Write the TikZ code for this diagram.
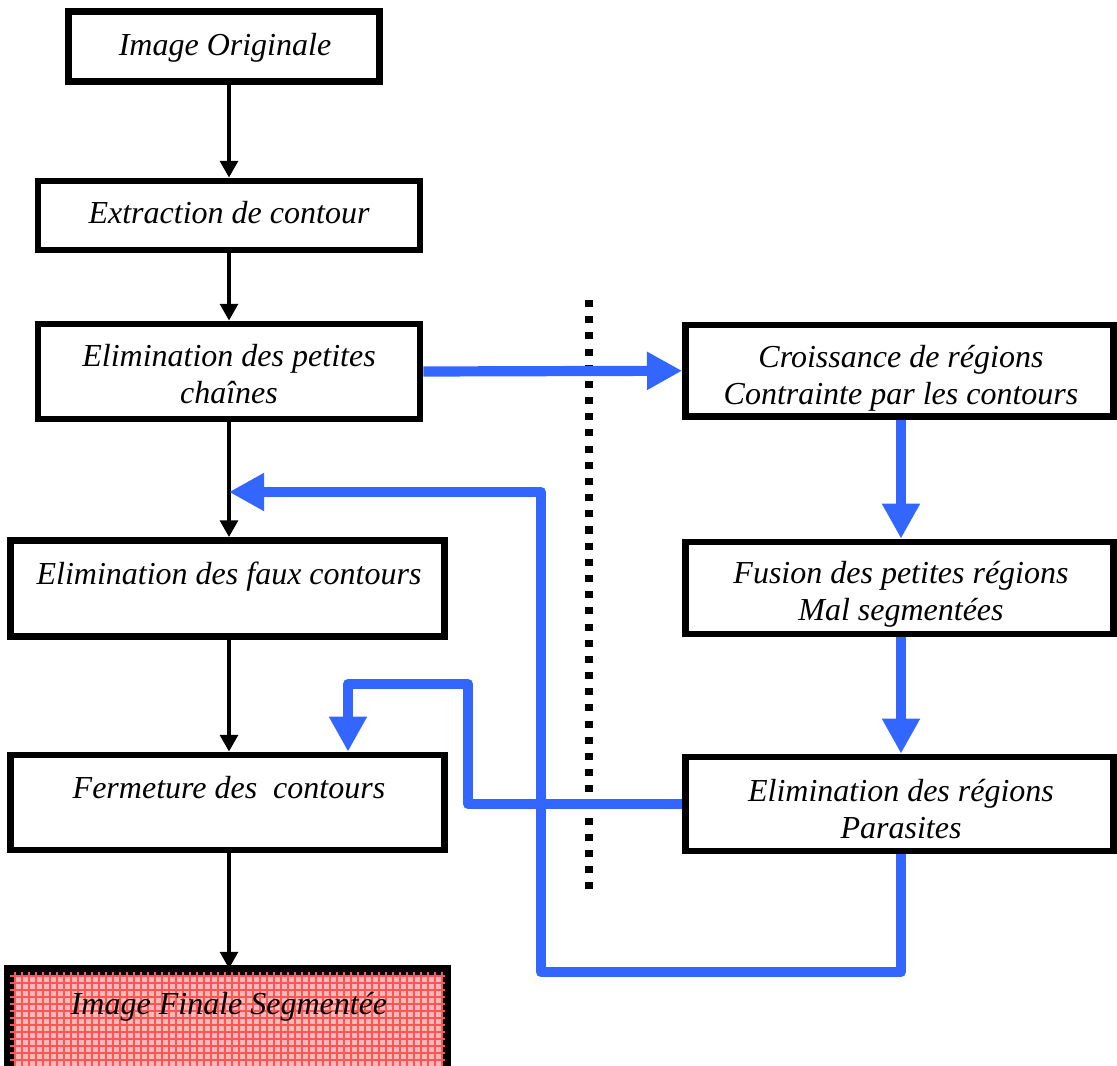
\documentclass[tikz,border=0pt]{standalone}
\usepackage{fontspec}
\setmainfont{Liberation Serif}
\usetikzlibrary{arrows.meta,fit}
\definecolor{flowblue}{RGB}{51,102,255}
\definecolor{finalfill}{RGB}{255,185,185}
\definecolor{finalgrid}{RGB}{255,85,85}

\begin{document}
\begin{tikzpicture}[x=0.01cm,y=-0.01cm,
  box/.style={draw=black,line width=1.9pt,fill=white,inner sep=0pt},
  txt/.style={font=\fontsize{9.1}{10.5}\selectfont\itshape,align=center,inner sep=0pt},
  flow/.style={draw=black,line width=1.35pt,-{Triangle[length=4.8pt,width=5pt]}},
  feedback/.style={draw=flowblue,line width=2.9pt,line join=round,
    -{Triangle[length=10pt,width=10.2pt]}},
  divider/.style={draw=black,line width=2pt,dash pattern=on 2pt off 2.6pt}
]
\useasboundingbox (0,0) rectangle (1117,1066);

% ---- left column ----
\node[box,fit={(68.5,11.5)(379.5,81.5)}]   (orig)    {};
\node[box,fit={(38,181)(420,250)}]         (extr)    {};
\node[box,fit={(38,324)(420,419)}]         (petites) {};
\node[box,fit={(10.5,540.5)(444.5,636.5)}] (faux)    {};
\node[box,fit={(10.5,755)(444.5,850)}]     (ferm)    {};
\node[box,fill=finalfill,fit={(10.5,972)(444.5,1082)}] (final) {};
\begin{scope}
  \clip (final.south west) rectangle (final.north east);
  \foreach \gx in {15,22,...,444} \draw[finalgrid,line width=0.3pt] (\gx,972) -- (\gx,1082);
  \foreach \gy in {976,983,...,1082} \draw[finalgrid,line width=0.3pt] (10,\gy) -- (445,\gy);
\end{scope}
\draw[line width=1.9pt] (final.south west) rectangle (final.north east);

% ---- right column ----
\node[box,fit={(685.5,325)(1113.5,416.5)}] (crois)    {};
\node[box,fit={(685.5,542)(1113.5,634)}]   (fusion)   {};
\node[box,fit={(685.5,757)(1113.5,851)}]   (parasite) {};

% ---- labels ----
\node[txt,anchor=mid] (torig)  at (225,47)  {Image Originale};
\node[txt,anchor=mid] (textr)  at (229,215) {Extraction de contour};
\node[txt]            (tpet)   at (229,374) {Elimination des petites\\chaînes};
\node[txt,anchor=mid] (tfaux)  at (229,576) {Elimination des faux contours};
\node[txt,anchor=mid] (tferm)  at (229,790) {Fermeture des\ \ contours};
\node[txt,anchor=mid] (tfinal) at (229,1006){Image Finale Segmentée};
\node[txt]            (tcrois) at (901,378) {Croissance de régions\\Contrainte par les contours};
\node[txt]            (tfus)   at (901,594) {Fusion des petites régions\\Mal segmentées};
\node[txt]            (tpar)   at (901,809) {Elimination des régions\\Parasites};

% ---- main chain ----
\coordinate (spine) at (229,0);
\draw[flow] (orig.south -| spine)    -- (extr.north -| spine);
\draw[flow] (extr.south -| spine)    -- (petites.north -| spine);
\draw[flow] (petites.south -| spine) -- (faux.north -| spine);
\draw[flow] (faux.south -| spine)    -- (ferm.north -| spine);
\draw[flow] (ferm.south -| spine)    -- (final.north -| spine);

% ---- dotted separator ----
\coordinate (dtop) at (589,300);
\coordinate (dbot) at (589,898);
\draw[divider] (dtop) -- (dbot);

% ---- region branch ----
\coordinate (rspine) at (901,0);
\draw[feedback] (petites.east) -- (crois.west);
\draw[feedback] (crois.south -| rspine)  -- (fusion.north -| rspine);
\draw[feedback] (fusion.south -| rspine) -- (parasite.north -| rspine);

% ---- feedback loops ----
\coordinate (loopA) at (901,972);
\coordinate (loopB) at (541,972);
\coordinate (loopC) at (541,492);
\coordinate (merge) at (229,492);
\draw[feedback] (parasite.south -| rspine) -- (loopA) -- (loopB) -- (loopC) -- (merge);

\coordinate (backA) at (468,0);
\coordinate (backB) at (348,684);
\draw[feedback] (parasite.west) -- (parasite.west -| backA) -- (backA |- backB) -- (backB)
  -- (ferm.north -| backB);
\end{tikzpicture}
\end{document}
